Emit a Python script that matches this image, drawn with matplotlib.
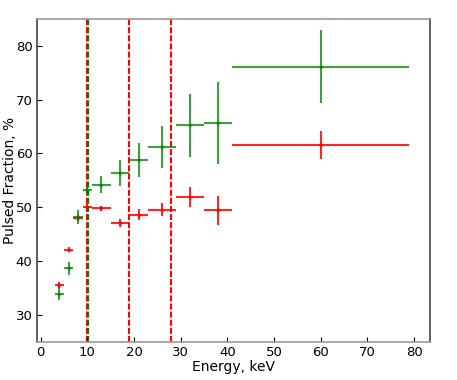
import matplotlib
matplotlib.use("Agg")
import matplotlib.pyplot as plt

# Energy bins (keV) and pulsed fractions (%)
energy = [4, 6, 8, 10, 13, 17, 21, 26, 32, 38, 60]
energy_err = [1, 1, 1, 1, 2, 2, 2, 3, 3, 3, 19]

pf_red = [35.5, 42.1, 48.0, 50.0, 49.8, 47.1, 48.6, 49.5, 51.9, 49.4, 61.6]
pf_red_err = [0.5, 0.5, 0.5, 0.6, 0.5, 0.75, 1.0, 1.2, 1.9, 2.7, 2.6]

pf_green = [33.9, 38.6, 48.2, 53.2, 54.2, 56.4, 58.8, 61.2, 65.2, 65.6, 76.1]
pf_green_err = [1.25, 1.15, 1.3, 1.0, 1.55, 2.4, 3.2, 3.9, 5.9, 7.6, 6.8]

# vertical dashed lines
red_lines = [9.85, 19, 28]
green_lines = [10.2]

fig = plt.figure(figsize=(4.57, 3.8), dpi=100)
ax = fig.add_axes([0.080, 0.101, 0.861, 0.849])

dash = (0, (2.9, 1.0))
for xv in red_lines:
    ax.axvline(xv, color='red', lw=1.5, linestyle=dash, zorder=1)
for xv in green_lines:
    ax.axvline(xv, color='green', lw=1.5, linestyle=dash, zorder=1)

ax.errorbar(energy, pf_red, xerr=energy_err, yerr=pf_red_err, fmt='+', ms=3,
            color='red', ecolor='red', elinewidth=1.5, alpha=0.85, zorder=2)
ax.errorbar(energy, pf_green, xerr=energy_err, yerr=pf_green_err, fmt='+', ms=3,
            color='green', ecolor='green', elinewidth=1.5, alpha=0.75, zorder=3)

ax.set_xlim(-0.9, 83.4)
ax.set_ylim(25, 85)
ax.set_xticks(range(0, 81, 10))
ax.set_yticks(range(30, 81, 10))
ax.tick_params(direction='in', labelsize=9.5, pad=3)
ax.set_xlabel('Energy, keV', fontsize=10, labelpad=1)
ax.set_ylabel('Pulsed Fraction, %', fontsize=10)
ax.yaxis.set_label_coords(-0.05, 0.5)

for side in ['left', 'right']:
    ax.spines[side].set_color('#444444')
for side in ['top', 'bottom']:
    ax.spines[side].set_color('#999999')
for sp in ax.spines.values():
    sp.set_linewidth(1.2)

fig.savefig('out.png', dpi=100)
